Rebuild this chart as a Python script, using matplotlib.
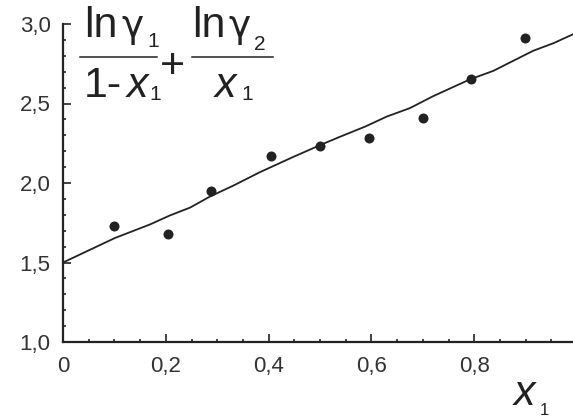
import matplotlib
matplotlib.use("Agg")
import matplotlib.pyplot as plt
from matplotlib.lines import Line2D
from matplotlib.ticker import FixedLocator, MultipleLocator

# ---- data ----
pts_x = [0.100, 0.205, 0.287, 0.404, 0.500, 0.596, 0.700, 0.793, 0.899]
pts_y = [1.728, 1.682, 1.947, 2.170, 2.234, 2.285, 2.408, 2.654, 2.911]

line_x = [0.0, 0.101, 0.169, 0.208, 0.247, 0.286, 0.331, 0.383, 0.448, 0.500,
          0.539, 0.588, 0.630, 0.675, 0.720, 0.792, 0.837, 0.915, 0.954, 0.994]
line_y = [1.500, 1.654, 1.739, 1.796, 1.845, 1.915, 1.983, 2.068, 2.164, 2.238,
          2.291, 2.355, 2.418, 2.471, 2.546, 2.652, 2.705, 2.832, 2.879, 2.938]

x_ticks = [0.0, 0.2, 0.4, 0.6, 0.8]
x_tick_labels = ["0", "0,2", "0,4", "0,6", "0,8"]
y_ticks = [1.0, 1.5, 2.0, 2.5, 3.0]
y_tick_labels = ["1,0", "1,5", "2,0", "2,5", "3,0"]

# ---- figure ----
W, H = 573, 417
plt.rcParams['font.family'] = ['Liberation Sans', 'DejaVu Sans']
fig = plt.figure(figsize=(W / 100, H / 100), dpi=100)
C = "#222222"

ax_l, ax_t, ax_b = 63, 24, 342
ax = fig.add_axes([ax_l / W, 1 - ax_b / H, (W - ax_l) / W, (ax_b - ax_t) / H])
ax.set_xlim(0, (W - ax_l) / 514)
ax.set_ylim(1.0, 3.0)

ax.plot(line_x, line_y, color=C, lw=1.3, clip_on=False)
ax.plot(pts_x, pts_y, 'o', color=C, ms=7.2, mew=0, clip_on=False)

for s in ['top', 'right']:
    ax.spines[s].set_visible(False)
for s in ['left', 'bottom']:
    ax.spines[s].set_linewidth(1.6)
    ax.spines[s].set_color(C)

ax.xaxis.set_major_locator(FixedLocator(x_ticks))
ax.xaxis.set_minor_locator(MultipleLocator(0.05))
ax.yaxis.set_major_locator(FixedLocator(y_ticks))
ax.yaxis.set_minor_locator(MultipleLocator(0.1))
ax.set_xticklabels(x_tick_labels)
ax.set_yticklabels(y_tick_labels)
ax.tick_params(which='major', direction='in', length=6, width=1.2, color=C,
               labelsize=16, labelcolor="#333333")
ax.tick_params(which='minor', direction='in', length=2.5, width=1.2, color=C)
ax.tick_params(axis='x', which='major', pad=10)
ax.tick_params(axis='y', which='major', pad=9)


def px(x, y):
    return x / W, 1 - y / H


def t(x, y, s, size, style='normal', family=None, ha='left'):
    kw = {}
    if family:
        kw['family'] = family
    fig.text(*px(x, y), s, fontsize=size, style=style, color=C,
             ha=ha, va='baseline', **kw)


# formula
F, S = 31, 15
G = ['DejaVu Sans']
t(84, 37, "ln", F)
t(121, 37, "\u03b3", 27, family=G)
t(147, 47, "1", S)
t(84, 97, "1-", F)
t(127, 97, "x", F, 'italic')
t(149, 100, "1", S)
t(172, 78, "+", F, ha='center')
t(192, 37, "ln", F)
t(228, 37, "\u03b3", 27, family=G)
t(254, 50, "2", S)
t(215, 97, "x", F, 'italic')
t(241, 100, "1", S)
for x0, x1 in [(80, 157), (192, 273)]:
    fig.add_artist(Line2D([x0 / W, x1 / W], [1 - 57 / H] * 2, color=C, lw=1.1,
                          transform=fig.transFigure))

# x-axis label
t(514, 405, "x", 31, 'italic')
t(540, 415, "1", 12)

fig.savefig("out.png", dpi=100)
